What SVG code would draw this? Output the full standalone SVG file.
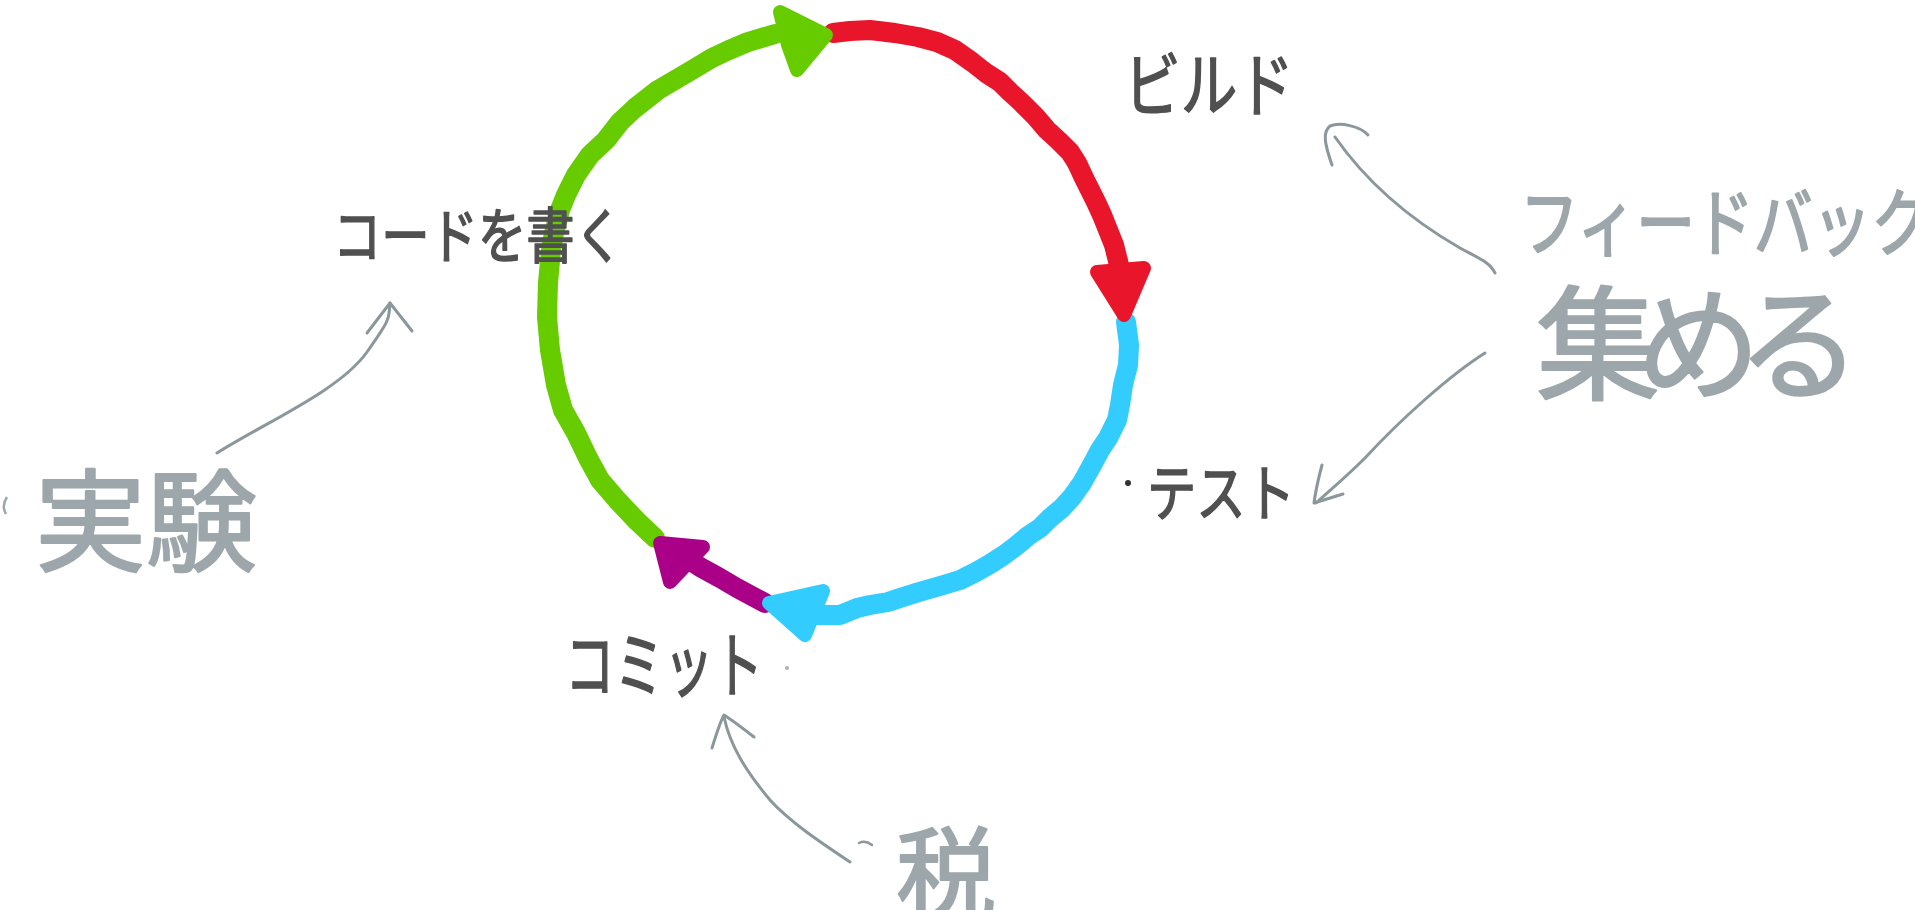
<svg xmlns="http://www.w3.org/2000/svg" width="1915" height="910" viewBox="0 0 1915 910">
<style>
.seg{fill:none;stroke-width:20;stroke-linecap:round;stroke-linejoin:round}
.head{stroke-width:14;stroke-linejoin:round}
.g{stroke:#66cc00;fill:#66cc00}
.r{stroke:#e8152b;fill:#e8152b}
.c{stroke:#33ccff;fill:#33ccff}
.p{stroke:#aa0088;fill:#aa0088}
.ann{fill:none;stroke:#8a979b;stroke-width:3;stroke-linecap:round;stroke-linejoin:round}
.lbl{font-family:"Noto Sans CJK JP","Noto Sans CJK SC",sans-serif;font-weight:400;fill:#505050;stroke:#505050;stroke-width:1.6;stroke-linejoin:round}
.big{font-family:"Noto Sans CJK JP","Noto Sans CJK SC",sans-serif;font-weight:400;fill:#9da7ab;stroke:#9da7ab;stroke-width:2.2;stroke-linejoin:round}
</style>
<rect width="1915" height="910" fill="#ffffff"/>
<g id="connectors">
<g id="cycle">
<path class="seg g" style="fill:none" d="M655,538 L637,521 L618,501 L600,480 L588,458 L576,433 L563,410 L556,385 L550,350 L547,317 L548,283 L551,250 L554,233 L560,210 L566,195 L576,175 L590,155 L606,140 L620,122 L635,108 L658,90 L675,80 L692,70 L712,58 L729,50 L748,42 L775,34"/>
<path class="seg r" style="fill:none" d="M833,33 L850,31 L870,30 L895,33 L918,37 L937,42 L955,50 L972,62 L986,73 L1000,82 L1010,92 L1022,103 L1035,116 L1047,130 L1059,141 L1070,152 L1077,163 L1084,178 L1090,190 L1096,202 L1102,215 L1108,230 L1114,245 L1119,265 L1121,285"/>
<path class="seg c" style="fill:none" d="M1126,322 L1129,345 L1128,365 L1123,385 L1120,405 L1117,420 L1108,438 L1100,450 L1092,465 L1082,483 L1072,497 L1062,508 L1050,518 L1040,528 L1028,536 L1016,546 L1004,555 L990,564 L976,572 L960,580 L940,586 L919,592 L900,598 L888,602 L870,605 L857,608 L840,615 L815,615"/>
<path class="seg p" style="fill:none" d="M765,603 L750,595 L737,588 L720,578 L700,567 L688,559"/>
<polygon class="head p" points="660,543 703,547 670,582"/>
<polygon class="head c" points="769,603 823,591 805,635"/>
<polygon class="head r" points="1097,272 1144,268 1124,315"/>
<polygon class="head g" points="780,12 826,35 797,70 788,45"/>
</g>
<g id="annotations">
<path class="ann" d="M217,453 C270,420 340,390 367,352 S388,318 390,303"/>
<path class="ann" d="M367,333 L390,303 L412,331"/>
<path class="ann" d="M1495,273 C1490,262 1478,258 1460,248 C1420,225 1372,190 1335,137"/>
<path class="ann" d="M1332,165 C1325,145 1322,132 1330,126 C1340,122 1360,126 1368,135"/>
<path class="ann" d="M1485,353 C1450,375 1400,420 1365,458 C1345,478 1330,490 1316,503"/>
<path class="ann" d="M1322,465 C1318,480 1315,495 1314,503 L1343,494"/>
<path class="ann" d="M850,862 C820,842 790,822 770,800 C745,770 730,745 724,717"/>
<path class="ann" d="M712,748 C716,735 720,722 724,715 C732,720 745,730 754,737"/>
<path class="ann" d="M859,843 C863,841 868,842 872,845" style="stroke-width:2.5"/>
</g>
</g>
<g id="node-code">
<text class="lbl" x="333" y="258" font-size="60" textLength="290" lengthAdjust="spacingAndGlyphs">コードを書く</text>
</g>
<g id="node-build">
<text class="lbl" x="1124" y="111" font-size="70" textLength="170" lengthAdjust="spacingAndGlyphs">ビルド</text>
</g>
<g id="node-test">
<circle cx="1128" cy="483" r="3" fill="#333333"/>
<text class="lbl" x="1147" y="516" font-size="62" textLength="148" lengthAdjust="spacingAndGlyphs">テスト</text>
</g>
<g id="node-commit">
<text class="lbl" x="565" y="691" font-size="72" textLength="198" lengthAdjust="spacingAndGlyphs">コミット</text>
<circle cx="787" cy="668" r="2" fill="#b0b0b0"/>
</g>
<g id="note-experiment">
<path d="M7,497 C3,503 3,509 6,514" fill="none" stroke="#9da7ab" stroke-width="2.5"/>
<text class="big" x="35" y="563" font-size="111">実験</text>
</g>
<g id="note-feedback">
<text class="big" x="1520" y="250" font-size="74" textLength="410" lengthAdjust="spacingAndGlyphs">フィードバック</text>
<text class="big" x="1536" y="390" font-size="124" textLength="325" lengthAdjust="spacing">集める</text>
</g>
<g id="note-tax">
<text class="big" x="896" y="911" font-size="100">税</text>
</g>
</svg>
